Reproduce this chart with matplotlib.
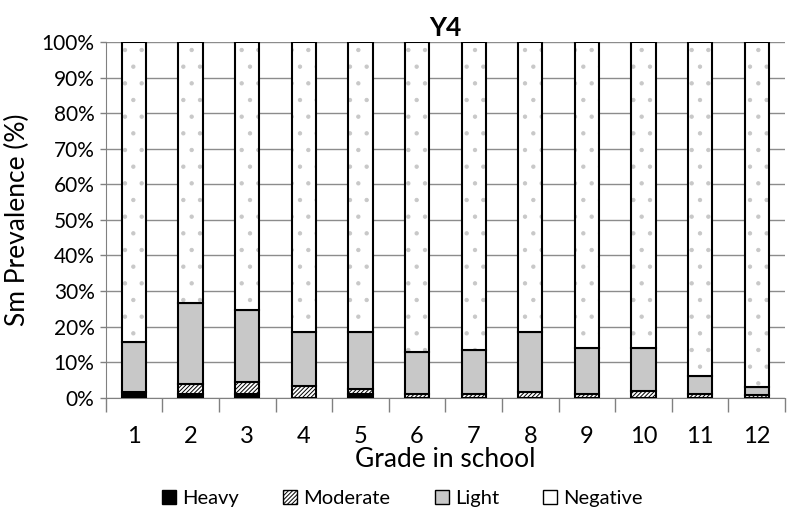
import matplotlib.pyplot as plt
import numpy as np
from matplotlib.patches import Patch

plt.rcParams['font.family'] = ['Lato', 'DejaVu Sans']
plt.rcParams['hatch.linewidth'] = 0.7

grades = ['1', '2', '3', '4', '5', '6', '7', '8', '9', '10', '11', '12']
heavy = [1.5, 1.2, 1.0, 0.0, 1.2, 0.0, 0.0, 0.0, 0.0, 0.0, 0.0, 0.0]
moderate = [0.0, 2.6, 3.4, 3.4, 1.2, 1.0, 1.0, 1.6, 1.0, 1.8, 1.2, 0.8]
light = [14.3, 22.8, 20.3, 15.0, 16.0, 11.8, 12.5, 16.8, 13.0, 12.2, 5.0, 2.3]
negative = [100 - h - m - l for h, m, l in zip(heavy, moderate, light)]

fig = plt.figure(figsize=(7.89, 5.12), dpi=100)
ax = fig.add_axes([0.134, 0.223, 0.861, 0.695])

x = np.arange(len(grades))
w = 0.43
ec = 'black'
lw = 1.5

b1 = np.array(heavy)
b2 = b1 + np.array(moderate)
b3 = b2 + np.array(light)

ax.bar(x, heavy, w, color='black', edgecolor=ec, linewidth=lw, zorder=3)
ax.bar(x, moderate, w, bottom=b1, color='white', edgecolor=ec, hatch='////////',
       linewidth=lw, zorder=3)
ax.bar(x, light, w, bottom=b2, color='#c8c8c8', edgecolor=ec, linewidth=lw, zorder=3)
ax.bar(x, negative, w, bottom=b3, color='white', edgecolor='#c8c8c8',
       hatch='.', linewidth=0, zorder=3)
ax.bar(x, negative, w, bottom=b3, color='none', edgecolor=ec, linewidth=lw, zorder=4)

ax.set_xlim(-0.5, len(grades) - 0.5)
ax.set_ylim(0, 100)
ax.set_yticks(np.arange(0, 101, 10))
ax.set_yticklabels([f'{v}%' for v in range(0, 101, 10)], fontsize=15)
ax.set_xticks(x)
ax.set_xticklabels(grades, fontsize=17)
ax.set_xticks(np.arange(-0.5, len(grades), 1), minor=True)
ax.tick_params(axis='x', which='major', length=0, pad=20)
ax.tick_params(axis='x', which='minor', length=10, color='#808080', width=1)
ax.tick_params(axis='y', length=4, color='#808080', width=1, pad=4)

ax.grid(axis='y', color='#8c8c8c', linewidth=1, zorder=0)
for s in ['top', 'right']:
    ax.spines[s].set_visible(False)
ax.spines['left'].set_color('#808080')
ax.spines['bottom'].set_color('#808080')

ax.set_title('Y4', fontsize=19, fontweight='bold', pad=4)
ax.set_ylabel('Sm Prevalence (%)', fontsize=19, labelpad=8)
ax.set_xlabel('Grade in school', fontsize=19, labelpad=0)

handles = [
    Patch(facecolor='black', edgecolor='black', label='Heavy'),
    Patch(facecolor='white', edgecolor='black', hatch='////////', label='Moderate'),
    Patch(facecolor='#c8c8c8', edgecolor='black', label='Light'),
    Patch(facecolor='white', edgecolor='black', label='Negative'),
]
fig.legend(handles=handles, loc='lower center', ncol=4, frameon=False, fontsize=14.5,
           bbox_to_anchor=(0.51, -0.025), handlelength=0.7, handleheight=0.7,
           handletextpad=0.3, columnspacing=2.2)

fig.savefig('out.png', dpi=100)
